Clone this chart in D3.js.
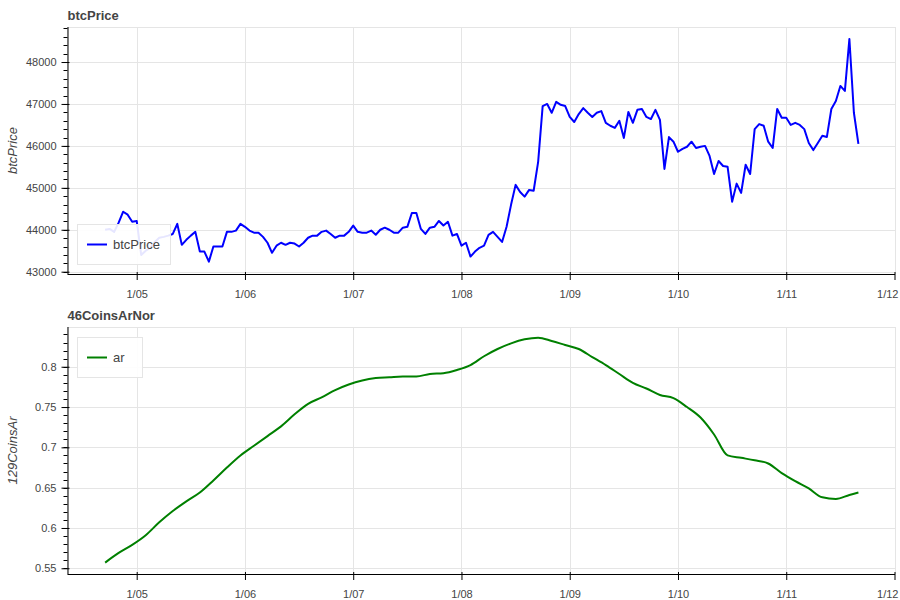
<!DOCTYPE html>
<html>
<head>
<meta charset="utf-8">
<script src="https://cdn.jsdelivr.net/npm/d3@7"></script>
<style>
  html, body { margin: 0; padding: 0; background: #fff; }
  svg { display: block; font-family: "Liberation Sans", Arial, Helvetica, sans-serif; }
</style>
</head>
<body>
<svg id="chart" width="900" height="600"></svg>
<script>
// ---------------- data ----------------
const startTime = Date.UTC(2024, 0, 4, 17); // first hourly sample
const dayTicks = ["2024-01-05","2024-01-06","2024-01-07","2024-01-08","2024-01-09","2024-01-10","2024-01-11","2024-01-12"];

// hourly btc price
const btcPrice = [44000,44020,43950,44170,44430,44360,44190,44210,43400,43500,
43570,43710,43810,43830,43860,43900,44140,43640,43760,43860,
43950,43480,43480,43240,43600,43600,43600,43950,43950,43980,
44140,44070,43980,43930,43930,43830,43690,43450,43620,43690,
43640,43690,43670,43600,43690,43810,43860,43860,43950,43980,
43900,43810,43860,43860,43950,44100,43950,43930,43930,43980,
43880,44000,44050,44000,43930,43930,44050,44070,44400,44400,
44020,43900,44050,44070,44210,44100,44190,43860,43900,43620,
43690,43360,43480,43570,43620,43880,43950,43830,43710,44070,
44600,45070,44900,44790,44950,44930,45620,46950,47000,46790,
47050,46980,46950,46690,46570,46760,46900,46790,46690,46790,
46830,46550,46480,46430,46600,46190,46810,46550,46860,46880,
46690,46640,46860,46620,45450,46210,46100,45860,45930,45980,
46100,45950,45980,46000,45760,45330,45640,45520,45500,44670,
45100,44880,45550,45330,46400,46520,46480,46100,45950,46880,
46670,46670,46500,46550,46500,46400,46070,45900,46070,46240,
46210,46880,47070,47430,47310,48550,46790,46050];

// ar series, sampled at these hour offsets from startTime
const arHours = [0,3,6,9,12,15,18,21,24,27,30,33,36,39,42,45,48,51,54,57,
60,63,66,69,72,75,78,81,84,87,90,93,96,99,102,105,108,111,114,117,
120,123,126,129,132,135,138,141,144,147,150,153,156,159,162,165,167];
const arValues = [0.557,0.569,0.579,0.591,0.607,0.621,0.633,0.644,0.659,0.675,
0.690,0.702,0.714,0.726,0.741,0.754,0.762,0.771,0.778,0.783,
0.786,0.787,0.788,0.788,0.791,0.792,0.796,0.802,0.813,0.822,
0.829,0.834,0.836,0.832,0.827,0.822,0.812,0.802,0.791,0.780,
0.773,0.765,0.761,0.750,0.737,0.716,0.690,0.687,0.684,0.680,
0.668,0.658,0.649,0.638,0.636,0.641,0.644];

const btcTicks = [43000,44000,45000,46000,47000,48000];
const arTicks = [0.55,0.6,0.65,0.7,0.75,0.8];

// ---------------- drawing ----------------
const HOUR = 3600 * 1000;
const svg = d3.select("#chart");
const textColor = "#444";
const gridColor = "#e5e5e5";
const fmtDay = d3.utcFormat("%-m/%d");
const tickDates = dayTicks.map(s => new Date(s + "T00:00:00Z"));

const left = 67.5, right = 895;
const x = d3.scaleUtc()
  .domain([tickDates[0], tickDates[tickDates.length - 1]])
  .range([136.7, 894.5]);

function panel(cfg) {
  const { top, bottom, yDomain, yRange, majors, minorStep, title, yLabel,
          series, color, legendLabel, legendBox, fmt, curve } = cfg;
  const y = d3.scaleLinear().domain(yDomain).range(yRange);
  const g = svg.append("g");
  const clipId = "clip" + Math.round(top);
  svg.append("clipPath").attr("id", clipId)
    .append("rect").attr("x", left).attr("y", top).attr("width", right - left).attr("height", bottom - top);

  // grid
  const grid = g.append("g").attr("stroke", gridColor).attr("stroke-width", 1).attr("shape-rendering", "crispEdges");
  grid.selectAll(".gx").data(tickDates).join("line")
    .attr("x1", d => Math.round(x(d)) + 0.5).attr("x2", d => Math.round(x(d)) + 0.5)
    .attr("y1", top).attr("y2", bottom);
  grid.selectAll(".gy").data(majors).join("line")
    .attr("x1", left).attr("x2", right)
    .attr("y1", d => Math.round(y(d)) + 0.5).attr("y2", d => Math.round(y(d)) + 0.5);
  // outline
  g.append("rect").attr("x", left).attr("y", top + 0.5).attr("width", right - left).attr("height", bottom - top)
    .attr("fill", "none").attr("stroke", gridColor).attr("shape-rendering", "crispEdges");

  // line
  const line = d3.line().x(d => x(d[0])).y(d => y(d[1])).curve(curve);
  g.append("path").datum(series).attr("clip-path", `url(#${clipId})`)
    .attr("d", line).attr("fill", "none").attr("stroke", color).attr("stroke-width", 2)
    .attr("stroke-linejoin", "round");

  // y axis
  const yAxis = d3.axisLeft(y).tickValues(majors).tickSize(6).tickPadding(5).tickFormat(fmt);
  const ya = g.append("g").attr("transform", `translate(${left},0)`).call(yAxis);
  const lo = Math.ceil(yDomain[0] / minorStep - 1e-9), hi = Math.floor(yDomain[1] / minorStep + 1e-9);
  const minorVals = d3.range(lo, hi + 1).map(k => k * minorStep);
  ya.append("g").selectAll("line").data(minorVals).join("line")
    .attr("x1", -4).attr("x2", 0).attr("y1", d => Math.round(y(d)) + 0.5).attr("y2", d => Math.round(y(d)) + 0.5)
    .attr("stroke", "#000");
  ya.selectAll(".tick line").attr("x2", -6).attr("x1", 2);
  ya.select(".domain").attr("d", `M0.5,${top}V${bottom}`).attr("stroke", "#000");
  ya.selectAll(".tick text").attr("fill", textColor).attr("font-size", 11)
    .attr("font-family", "Liberation Sans, Arial, sans-serif");
  ya.selectAll(".tick line").attr("stroke", "#000");

  // x axis
  const xAxis = d3.axisBottom(x).tickValues(tickDates).tickSize(6).tickPadding(10).tickFormat(fmtDay);
  const xa = g.append("g").attr("transform", `translate(0,${bottom})`).call(xAxis);
  xa.select(".domain").attr("d", `M${left},0.5H${right}`).attr("stroke", "#000");
  xa.selectAll(".tick line").attr("y1", -2).attr("stroke", "#000");
  xa.selectAll(".tick text").attr("fill", textColor).attr("font-size", 11)
    .attr("font-family", "Liberation Sans, Arial, sans-serif");
  // keep the last label inside the canvas
  const lastTick = tickDates[tickDates.length - 1];
  xa.selectAll(".tick").filter(d => +d === +lastTick).select("text")
    .attr("text-anchor", "end").attr("x", 898 - x(lastTick));

  // title
  svg.append("text").attr("x", left).attr("y", top - 7)
    .attr("font-size", 13).attr("font-weight", "bold").attr("fill", textColor).text(title);
  // y label
  const cy = (top + bottom) / 2;
  svg.append("text").attr("transform", `translate(16.5,${cy}) rotate(-90)`)
    .attr("text-anchor", "middle").attr("font-size", 13).attr("font-style", "italic")
    .attr("fill", textColor).text(yLabel);

  // legend
  const lg = svg.append("g");
  lg.append("rect").attr("x", legendBox[0] + 0.5).attr("y", legendBox[1] + 0.5)
    .attr("width", legendBox[2]).attr("height", 40)
    .attr("fill", "#fff").attr("fill-opacity", 0.9).attr("stroke", gridColor);
  const ly = legendBox[1] + 20.5;
  lg.append("line").attr("x1", legendBox[0] + 10).attr("x2", legendBox[0] + 30)
    .attr("y1", ly).attr("y2", ly).attr("stroke", color).attr("stroke-width", 2);
  lg.append("text").attr("x", legendBox[0] + 36).attr("y", ly + 4.5)
    .attr("font-size", 13).attr("fill", textColor).text(legendLabel);
}

const btcSeries = btcPrice.map((v, i) => [new Date(startTime + i * HOUR), v]);
const arSeries = arValues.map((v, i) => [new Date(startTime + arHours[i] * HOUR), v]);

panel({
  top: 27, bottom: 274, yDomain: [42945, 48835], yRange: [274, 27],
  majors: btcTicks, minorStep: 200, title: "btcPrice", yLabel: "btcPrice",
  series: btcSeries, color: "#0000ff", legendLabel: "btcPrice",
  legendBox: [77, 224, 93], fmt: d3.format("d"), curve: d3.curveLinear
});
panel({
  top: 327, bottom: 574, yDomain: [0.5429, 0.8493], yRange: [574, 327],
  majors: arTicks, minorStep: 0.01, title: "46CoinsArNor", yLabel: "129CoinsAr",
  series: arSeries, color: "#008000", legendLabel: "ar",
  legendBox: [77, 337, 65], fmt: d => String(+d.toFixed(2)), curve: d3.curveMonotoneX
});
</script>
</body>
</html>
